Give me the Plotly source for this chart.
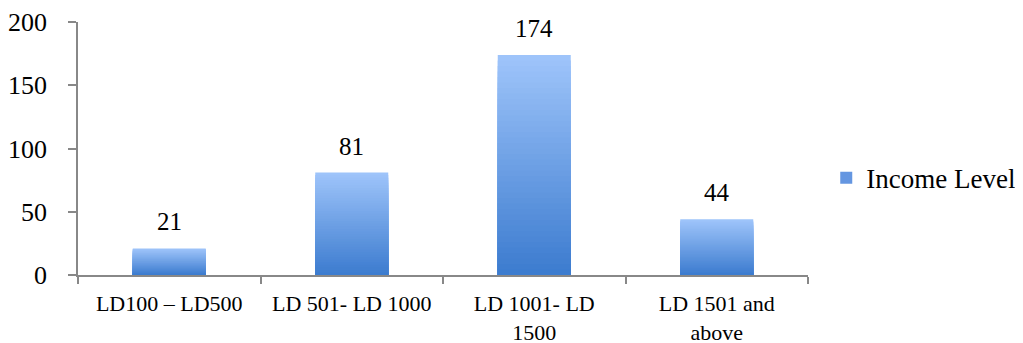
import plotly.graph_objects as go

categories = ["LD100 – LD500", "LD 501- LD 1000", "LD 1001- LD<br>1500", "LD 1501 and<br>above"]
values = [21, 81, 174, 44]
series_name = "Income Level"

FONT = "Liberation Serif"
top_rgb = (158, 196, 250)
bot_rgb = (58, 122, 206)
N = 40

fig = go.Figure()
for k in range(N, 0, -1):
    t = k / N  # 1 at top, 0 near bottom
    c = tuple(round(bot_rgb[i] + (top_rgb[i] - bot_rgb[i]) * t) for i in range(3))
    fig.add_trace(go.Bar(
        x=categories,
        y=[v * k / N for v in values],
        marker=dict(color="rgb(%d,%d,%d)" % c, line=dict(width=0)),
        showlegend=False,
        hoverinfo="skip" if k != N else None,
        name=series_name,
    ))

# legend entry
fig.add_trace(go.Bar(
    x=[categories[0]], y=[None], name=series_name,
    marker=dict(color="rgb(100,150,225)", line=dict(width=0)),
    showlegend=True,
))

for c, v in zip(categories, values):
    fig.add_annotation(x=c, y=v, text=str(v), showarrow=False,
                       yanchor="bottom", yshift=11,
                       font=dict(family=FONT, size=25, color="#000"))

fig.update_layout(
    width=1015, height=343,
    margin=dict(l=70, r=215, t=14, b=76, autoexpand=False),
    barmode="overlay", bargap=0.6,
    plot_bgcolor="white", paper_bgcolor="white",
    font=dict(family=FONT, size=24, color="#000"),
    showlegend=True,
    legend=dict(x=1.025, y=0.383, yanchor="middle", xanchor="left",
                font=dict(family=FONT, size=27), itemwidth=30),
)
fig.update_xaxes(
    showline=True, linecolor="#888", linewidth=1.5, automargin=False,
    ticks="outside", tickson="boundaries", ticklen=7, tickcolor="#888", tickwidth=1.5,
    showgrid=False, tickfont=dict(size=22), ticklabelstandoff=8, tickangle=0,
)
fig.update_yaxes(
    range=[0, 200], dtick=50, showline=True, linecolor="#888", linewidth=1.5,
    automargin=False,
    ticks="outside", ticklen=8, tickcolor="#888", tickwidth=1.5,
    showgrid=False, zeroline=False, tickfont=dict(size=26), ticklabelstandoff=16,
)
fig.write_html("out.html")
